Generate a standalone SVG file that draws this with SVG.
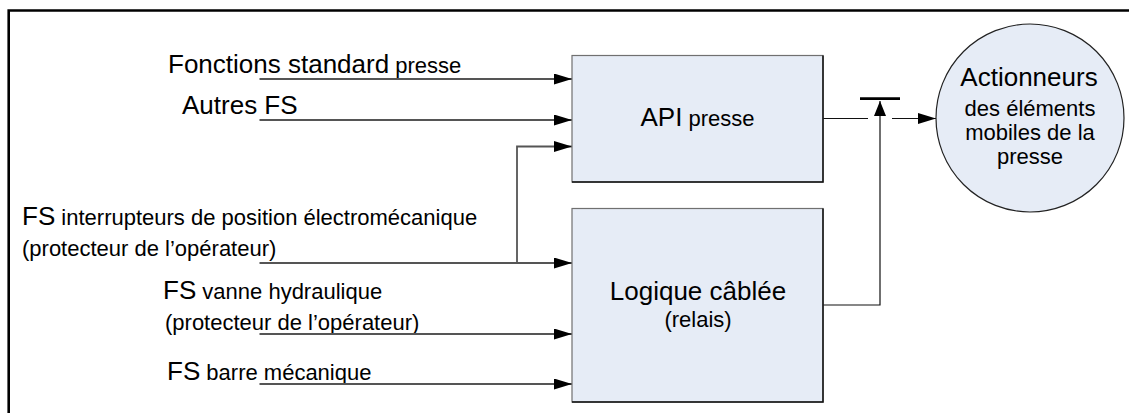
<svg xmlns="http://www.w3.org/2000/svg" width="1129" height="413" viewBox="0 0 1129 413">
  <style>
    text { font-family: "Liberation Sans", Arial, sans-serif; fill: #000; }
    .big { font-size: 26px; }
    .small { font-size: 22px; }
    .box { fill: #E6ECF6; stroke: #707070; stroke-width: 1.2; }
    .edge { fill: none; stroke: #111; stroke-width: 1.5; }
    .wire { fill: none; stroke: #555; stroke-width: 1.8; }
    .out { fill: none; stroke: #111; stroke-width: 1.2; }
  </style>
  <defs>
    <marker id="arrow" markerUnits="userSpaceOnUse" markerWidth="18" markerHeight="12" refX="18" refY="5.5" orient="auto">
      <path d="M0,0 L18,5.5 L0,11 z" fill="#000"/>
    </marker>
    <marker id="arrowUp" markerUnits="userSpaceOnUse" markerWidth="16" markerHeight="13" refX="15" refY="6" orient="auto">
      <path d="M0,0 L15,6 L0,12 z" fill="#000"/>
    </marker>
  </defs>

  <!-- outer frame (continues past the right and bottom edges) -->
  <path d="M8.7,413 V10.5 H1129" fill="none" stroke="#000" stroke-width="2.6"/>

  <!-- input labels -->
  <g id="labels">
    <text x="168" y="73"><tspan class="big">Fonctions standard</tspan><tspan class="small"> presse</tspan></text>
    <text x="182" y="113.5" class="big">Autres FS</text>
    <text x="22" y="224.5"><tspan class="big">FS</tspan><tspan class="small"> interrupteurs de position électromécanique</tspan></text>
    <text x="22" y="256" class="small">(protecteur de l’opérateur)</text>
    <text x="163" y="298.5"><tspan class="big">FS</tspan><tspan class="small"> vanne hydraulique</tspan></text>
    <text x="165" y="329.5" class="small">(protecteur de l’opérateur)</text>
    <text x="167" y="379.5"><tspan class="big">FS</tspan><tspan class="small"> barre mécanique</tspan></text>
  </g>

  <!-- connectors -->
  <g id="connectors">
    <path class="wire" d="M259.5,79 H572" marker-end="url(#arrow)"/>
    <path class="wire" d="M259.5,120 H572" marker-end="url(#arrow)"/>
    <path class="wire" d="M517,263 V146.5 H572" marker-end="url(#arrow)"/>
    <path class="wire" d="M259.5,263 H572" marker-end="url(#arrow)"/>
    <path class="wire" d="M259.5,334 H572" marker-end="url(#arrow)"/>
    <path class="wire" d="M259.5,384 H572" marker-end="url(#arrow)"/>
    <!-- API output towards the switch -->
    <path class="out" d="M823,118.5 H868"/>
    <!-- hard-wired logic output driving the switch -->
    <path class="out" d="M823,305 H880 V101" marker-end="url(#arrowUp)"/>
    <!-- switch bar -->
    <path d="M860,98.7 H900" stroke="#000" stroke-width="2.8"/>
    <!-- switch output to actuators -->
    <path class="out" d="M892,118.5 H936" marker-end="url(#arrow)"/>
  </g>

  <g id="api">
    <rect class="box" x="572" y="55.5" width="251" height="126.5"/>
    <path class="edge" d="M823,55.5 V182 H572"/>
    <text x="697.5" y="126" text-anchor="middle"><tspan class="big">API</tspan><tspan class="small"> presse</tspan></text>
  </g>

  <g id="logique">
    <rect class="box" x="572" y="208.5" width="251" height="193.5"/>
    <path class="edge" d="M823,208.5 V402 H572"/>
    <text x="698" y="300" class="big" text-anchor="middle">Logique câblée</text>
    <text x="698" y="326.5" class="small" text-anchor="middle">(relais)</text>
  </g>

  <g id="actionneurs">
    <circle cx="1030" cy="118" r="94" fill="#E6ECF6" stroke="#222" stroke-width="1.2"/>
    <text x="1029" y="86" class="big" text-anchor="middle">Actionneurs</text>
    <text x="1030" y="116" class="small" text-anchor="middle">des éléments</text>
    <text x="1030" y="140" class="small" text-anchor="middle">mobiles de la</text>
    <text x="1030" y="164" class="small" text-anchor="middle">presse</text>
  </g>
</svg>
